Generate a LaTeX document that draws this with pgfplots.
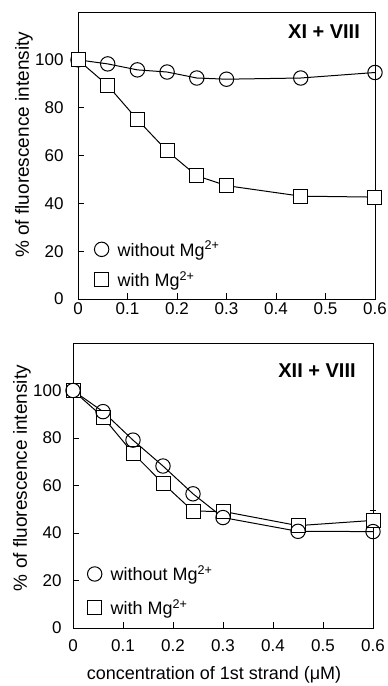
\documentclass[border=0pt]{standalone}
\usepackage{fontspec}
\setmainfont{Liberation Sans}
\usepackage{pgfplots}
\pgfplotsset{compat=1.18}
\pgfplotstableread{
x    wo     w
0.00 100.0 100.0
0.06 98.3  89.3
0.12 95.8  75.0
0.18 94.9  61.9
0.24 92.4  51.5
0.30 91.9  47.4
0.45 92.4  43.0
0.60 94.7  42.6
}\topdata
\pgfplotstableread{
x    wo     w
0.00 100.0 100.0
0.06 91.1  88.8
0.12 79.1  73.6
0.18 68.2  60.9
0.24 56.5  49.2
0.30 46.5  49.1
0.45 40.7  43.1
0.60 40.6  45.3
}\botdata
\pgfplotsset{
  panel/.style={
    scale only axis,
    xmin=0, xmax=0.6, ymin=0, ymax=120,
    xtick={0,0.1,...,0.6},
    ytick={0,20,...,100},
    xtick pos=bottom, ytick pos=left,
    tick align=inside,
    major tick length=6pt,
    axis line style={black, line width=0.9pt},
    tick style={black, line width=0.9pt},
    tick label style={font=\fontsize{17}{20}\selectfont},
    /pgf/number format/assume math mode=true,
    xticklabel={\pgfmathprintnumber[fixed,precision=1]{\tick}},
    clip=false,
    legend image code/.code={\path[draw=none] (0pt,-6pt) (16pt,6pt); \draw[##1] plot coordinates {(8pt,0pt)};},
    legend style={draw=none, fill=none, inner sep=0pt, font=\fontsize{18}{21}\selectfont, column sep=6pt, cells={anchor=west}},
    legend cell align=left,
  },
  circ/.style={black, line width=1pt, mark=o, mark size=7.2pt, mark options={fill=white, solid}},
  sq/.style={black, line width=1pt, mark=square*, mark size=7pt, mark options={fill=white, solid}},
}
\begin{document}
\begin{tikzpicture}
\begin{axis}[panel,
  at={(78pt,387pt)}, anchor=south west,
  width=297pt, height=287pt,
  yticklabel style={xshift=-11pt},
  ylabel={\% of fluorescence intensity},
  every axis y label/.style={at={(axis description cs:-0.182,0.537)}, rotate=90, anchor=center, font=\fontsize{19}{22}\selectfont},
  legend style={at={(axis description cs:0.052,0.03)}, anchor=south west, row sep=10pt},
]
\addlegendimage{circ}
\addlegendentry{without Mg\textsuperscript{2+}}
\addlegendimage{sq}
\addlegendentry{with Mg\textsuperscript{2+}}
\addplot[circ, forget plot] table[x=x, y=wo] {\topdata};
\addplot[sq, forget plot] table[x=x, y=w] {\topdata};
\node[font=\bfseries\fontsize{20}{24}\selectfont] at (axis cs:0.497,112) {XI + VIII};
\end{axis}
\begin{axis}[panel,
  at={(73pt,58pt)}, anchor=south west,
  width=300pt, height=285pt,
  yticklabel style={xshift=-8pt},
  xticklabel style={yshift=-8pt},
  xlabel={concentration of 1st strand (μM)},
  every axis x label/.style={at={(axis description cs:0.47,-0.163)}, anchor=center, font=\fontsize{18}{21}\selectfont},
  ylabel={\% of fluorescence intensity},
  every axis y label/.style={at={(axis description cs:-0.17,0.526)}, rotate=90, anchor=center, font=\fontsize{19}{22}\selectfont},
  legend style={at={(axis description cs:0.045,0.035)}, anchor=south west, row sep=13pt},
]
\addlegendimage{circ}
\addlegendentry{without Mg\textsuperscript{2+}}
\addlegendimage{sq}
\addlegendentry{with Mg\textsuperscript{2+}}
\addplot[forget plot, draw=none, mark=none, black, line width=0.9pt,
  error bars/.cd, y dir=plus, y explicit,
  error bar style={black, line width=0.9pt},
  error mark options={rotate=90, mark size=3pt, black}]
  coordinates {(0.6,45.3) +- (0,4.2)};
\addplot[sq, forget plot] table[x=x, y=w] {\botdata};
\addplot[circ, forget plot] table[x=x, y=wo] {\botdata};
\node[font=\bfseries\fontsize{20}{24}\selectfont] at (axis cs:0.488,108.5) {XII + VIII};
\end{axis}
\pgfresetboundingbox
\path[use as bounding box] (0,0) rectangle (388pt,686pt);
\end{tikzpicture}
\end{document}
